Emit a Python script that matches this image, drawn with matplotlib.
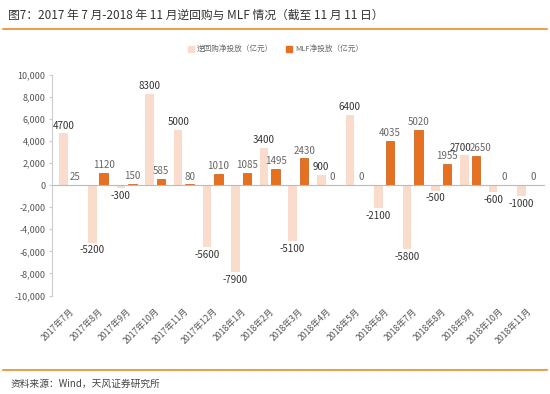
import matplotlib.pyplot as plt
import numpy as np
from matplotlib.lines import Line2D

plt.rcParams['font.family'] = ['Noto Sans CJK SC', 'DejaVu Sans']

meses = ['2017年7月', '2017年8月', '2017年9月', '2017年10月', '2017年11月', '2017年12月',
         '2018年1月', '2018年2月', '2018年3月', '2018年4月', '2018年5月', '2018年6月',
         '2018年7月', '2018年8月', '2018年9月', '2018年10月', '2018年11月']
nihuigou = [4700, -5200, -300, 8300, 5000, -5600, -7900, 3400, -5100, 900, 6400, -2100,
            -5800, -500, 2700, -600, -1000]
mlf = [25, 1120, 150, 585, 80, 1010, 1085, 1495, 2430, 0, 0, 4035, 5020, 1955, 2650, 0, 0]

c_light = '#F9DCCB'
c_dark = '#E5701F'
c_text = '#555555'

fig = plt.figure(figsize=(5.5, 3.94), dpi=100)
ax = fig.add_axes([0.095, 0.25, 0.895, 0.56])

x = np.arange(len(meses))
w = 0.3
ax.bar(x - 0.2, nihuigou, width=w, color=c_light)
ax.bar(x + 0.2, mlf, width=w, color=c_dark, edgecolor='#C95A14', linewidth=0.5)

# etiquetas de valores
for i in range(len(meses)):
    v = nihuigou[i]
    m = mlf[i]
    # si las dos etiquetas quedan a la misma altura se separan un poco
    dx = 0.0
    if v > 0 and abs(v - m) < 600:
        dx = 0.15
    if v >= 0:
        ax.text(x[i] - 0.2 - dx, v + 250, str(v), ha='center', va='bottom', fontsize=7, color='#333333')
    else:
        ax.text(x[i] - 0.2, v - 250, str(v), ha='center', va='top', fontsize=7, color='#333333')
    ax.text(x[i] + 0.2 + dx, m + 250, str(m), ha='center', va='bottom', fontsize=7, color='#666666')

ax.axhline(0, color='#BBBBBB', linewidth=0.8)
ax.set_ylim(-10000, 10000)
ax.set_xlim(-0.6, len(meses) - 0.4)
ax.set_yticks(np.arange(-10000, 10001, 2000))
ax.set_yticklabels(['{:,}'.format(t) for t in range(-10000, 10001, 2000)], fontsize=6.5, color=c_text)
ax.set_xticks(x)
ax.set_xticklabels(meses, rotation=45, ha='right', rotation_mode='anchor', fontsize=6.3, color=c_text)
ax.tick_params(axis='x', length=0, pad=8)
ax.tick_params(axis='y', length=2, color='#CCCCCC', pad=3)
for s in ['top', 'right', 'bottom']:
    ax.spines[s].set_visible(False)
ax.spines['left'].set_color('#CCCCCC')
ax.spines['left'].set_linewidth(0.8)

# leyenda
handles = [Line2D([], [], marker='s', linestyle='', color=c_light, markersize=4),
           Line2D([], [], marker='s', linestyle='', color=c_dark, markersize=4)]
fig.legend(handles, ['逆回购净投放（亿元）', 'MLF净投放（亿元）'], loc='center',
           bbox_to_anchor=(0.5, 0.875), ncol=2, frameon=False, fontsize=5.5,
           labelcolor='#666666', handlelength=1.0, handletextpad=0.3, columnspacing=1.5)

# titulo y lineas
fig.text(0.015, 0.96, '图7：2017 年 7 月-2018 年 11 月逆回购与 MLF 情况（截至 11 月 11 日）',
         fontsize=8.5, color='#333333', va='center', ha='left')
fig.add_artist(Line2D([0.005, 0.995], [0.926, 0.926], color='#EE8A2E', linewidth=1.2))
fig.add_artist(Line2D([0.005, 0.995], [0.061, 0.061], color='#EE8A2E', linewidth=1.2))
fig.text(0.02, 0.025, '资料来源：Wind，天风证券研究所', fontsize=7, color='#444444', va='center', ha='left')

fig.savefig('out.png', dpi=100)
